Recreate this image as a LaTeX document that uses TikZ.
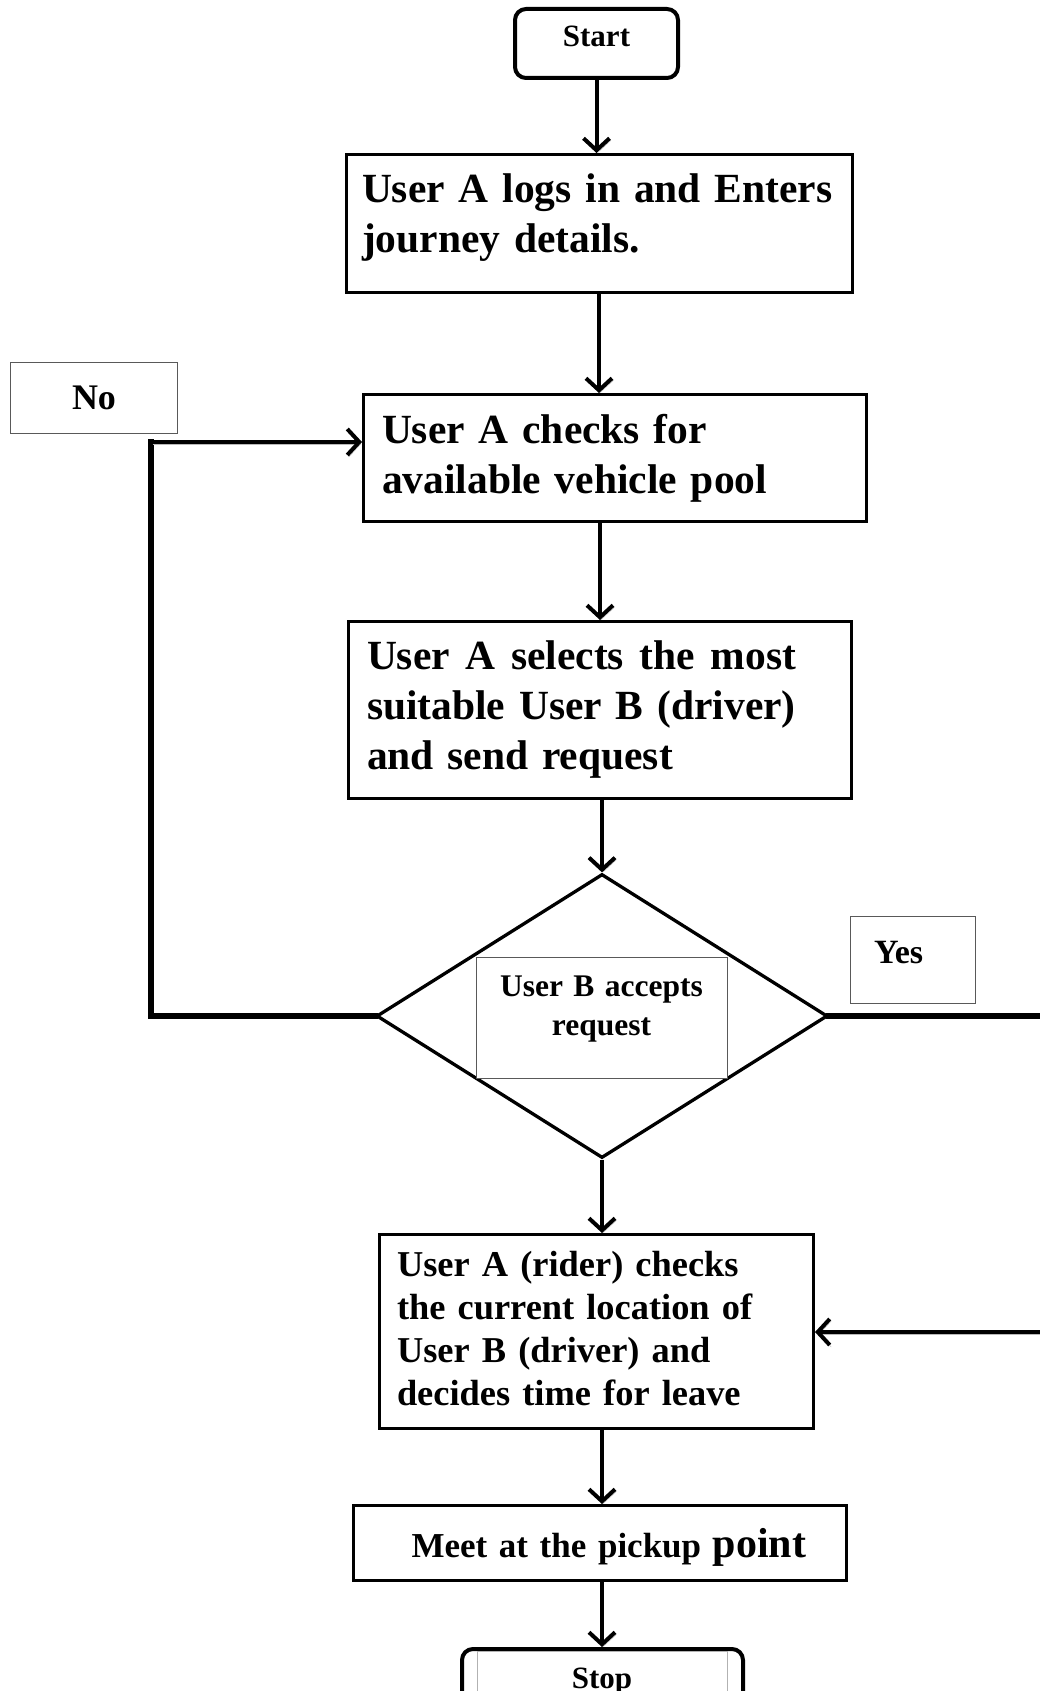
\documentclass[tikz,border=0pt]{standalone}
\usepackage{fontspec}
\setmainfont{Liberation Serif}
\usepackage{tikz}
\usetikzlibrary{arrows.meta,calc,positioning,shapes.geometric}

\newcommand{\boxfont}[2]{\bfseries\fontsize{#1}{#2}\selectfont}

\tikzset{
  flowbox/.style={draw,rectangle,line width=3pt,inner xsep=18pt,inner ysep=0pt},
  endbox/.style={draw,rectangle,line width=4pt,rounded corners=11pt,inner sep=0pt,font=\boxfont{31}{36}},
  tagbox/.style={draw=gray!70!black,rectangle,line width=1pt,inner sep=0pt},
  flow/.style={->,line width=4pt,preaction={draw=gray!55,transform canvas={shift={(1.5pt,-2pt)}}}},
  loopline/.style={line width=5.5pt,line cap=rect}
}

\begin{document}
\begin{tikzpicture}[x=1pt,y=-1pt,>={Straight Barb[length=12pt,width=26pt]}]
\useasboundingbox (0,0) rectangle (1039,1691);

% main column
\node[endbox,minimum width=163pt,minimum height=69pt,text height=38pt,text depth=31pt] (start) at (596.5,43.5) {Start};
\node[flowbox,minimum width=505pt,minimum height=138pt,text width=474pt,inner xsep=16pt,align=left,font=\boxfont{41.5}{50}] (logs) at (599,223.5)
  {\hyphenpenalty=10000 User A logs in and Enters\\ journey details.\rule[-20pt]{0pt}{0pt}};
\node[flowbox,minimum width=503pt,minimum height=127pt,text width=466pt,align=left,font=\boxfont{41.5}{50}] (checks) at (615,458)
  {User A checks for\\ available vehicle pool};
\node[flowbox,minimum width=503pt,minimum height=177pt,text width=466pt,align=left,font=\boxfont{41.5}{50}] (selects) at (600,710)
  {\makebox[429pt][l]{User\hfill A\hfill selects\hfill the\hfill most}\\ suitable User B (driver)\\ and send request\rule[-10pt]{0pt}{0pt}};

% decision
\node[draw,diamond,line width=3.3pt,inner sep=0pt,aspect=1.588,minimum width=451pt,minimum height=284pt] (accept) at (602,1016) {};
\node[tagbox,fill=white,minimum width=251pt,minimum height=121pt,text width=240pt,align=center,font=\boxfont{31.5}{39}] (accepttxt) at (601.5,1017.5)
  {User B accepts\\ request\rule[-23.5pt]{0pt}{0pt}};
\node[tagbox,minimum width=125pt,minimum height=87pt,text width=77pt,inner xsep=24pt,align=left,text height=46pt,text depth=39pt,font=\boxfont{34}{40}] (yes) at (912.5,959.5) {Yes};
\node[tagbox,minimum width=167pt,minimum height=71pt,text height=46pt,text depth=24pt,font=\boxfont{36}{40}] (no) at (94,398) {No};

\node[flowbox,minimum width=434pt,minimum height=194pt,text width=399pt,inner xsep=17.5pt,align=left,font=\boxfont{36.4}{43}] (rider) at (596.5,1331.5)
  {User A (rider) checks\\ the current location of\\ User B (driver) and\\ decides time for leave\rule[-5.5pt]{0pt}{0pt}};
\node[flowbox,minimum width=493pt,minimum height=75pt,text width=493pt,inner xsep=0pt,align=left,text height=51.5pt,text depth=23.5pt,font=\boxfont{35}{40}] (meet) at (600,1543)
  {\hspace*{58pt}Meet at the pickup {\fontsize{42}{48}\selectfont point}};
\node[endbox,minimum width=281pt,minimum height=91pt] (stop) at (602.5,1694.5) {};
\node[tagbox,draw=gray!60,minimum width=250pt,text height=37pt,text depth=52pt,font=\boxfont{31}{36}] (stoptxt) at (602,1695.5) {Stop};

% connectors
\draw[flow] (start) -- (logs.north -| start);
\draw[flow] (logs.south) -- (logs.south |- checks.north);
\draw[flow] (checks.south -| selects.north) -- (selects.north);
\draw[flow] (selects.south -| accept.north) -- (accept.north);
\draw[flow] (accept.south) -- (accept.south |- rider.north);
\draw[flow] (rider.south -| accept.south) -- (accept.south |- meet.north);
\draw[flow] (meet.south -| accept.south) -- (accept.south |- stop.north);

% no: back to the pool check
\coordinate (nobend) at (151,442);
\draw[loopline] (accept.west) -| (nobend);
\draw[flow] (nobend) -- (checks.west |- nobend);

% yes: round the right side to the rider box
\coordinate (yesback) at (1050,1332);
\draw[loopline] (accept.east) -| (yesback);
\draw[flow] (yesback) -- (rider.east |- yesback);
\end{tikzpicture}
\end{document}
